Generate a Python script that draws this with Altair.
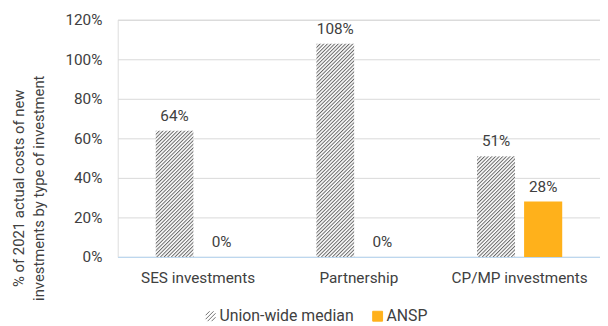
import base64
import altair as alt
import pandas as pd

categories = ["SES investments", "Partnership", "CP/MP investments"]
series_names = ["Union-wide median", "ANSP"]
union_median = [0.64, 1.08, 0.51]
ansp = [0.00, 0.00, 0.28]
y_ticks = [0, 0.2, 0.4, 0.6, 0.8, 1.0, 1.2]

rows = []
for c, u, a in zip(categories, union_median, ansp):
    rows.append({"category": c, "series": series_names[0], "value": u})
    rows.append({"category": c, "series": series_names[1], "value": a})
df = pd.DataFrame(rows)

ORANGE = "#FFB11B"
TEXT = "#404040"
FONT = "Roboto"

hatch_svg = (
    "<svg xmlns='http://www.w3.org/2000/svg' width='100%' height='100%'>"
    "<defs><pattern id='h' width='2.6' height='2.6' patternUnits='userSpaceOnUse' "
    "patternTransform='rotate(45)'>"
    "<rect width='2.6' height='2.6' fill='#ffffff'/>"
    "<rect width='1' height='2.6' fill='#666666'/></pattern></defs>"
    "<rect width='100%' height='100%' fill='url(#h)'/></svg>"
)
hatch_uri = "data:image/svg+xml;base64," + base64.b64encode(hatch_svg.encode()).decode()

hatch_path = "M-1,-0.2L-0.2,-1M-1,0.6L0.6,-1M-0.6,1L1,-0.6M0.2,1L1,0.2"

x_enc = alt.X("category:N", sort=categories,
              scale=alt.Scale(paddingInner=0.47, paddingOuter=0.235),
              axis=alt.Axis(title=None, labelAngle=0, labelFontSize=15.5, labelColor=TEXT,
                            labelFont=FONT, labelPadding=14, ticks=False,
                            domainColor="#BDD7EE", domainWidth=1.2, grid=False))
xo_enc = alt.XOffset("series:N", sort=series_names,
                     scale=alt.Scale(domain=series_names, paddingInner=0.19, paddingOuter=0))
y_enc = alt.Y("value:Q",
              scale=alt.Scale(domain=[0, 1.2], nice=False),
              axis=alt.Axis(values=y_ticks, format=".0%", title=["% of 2021 actual costs of new",
                                                                  "investments by type of investment"],
                            titleFontSize=15, titleFont=FONT, titleColor=TEXT, titleFontWeight="normal",
                            titleLineHeight=20, titlePadding=19, titleY=170,
                            labelFontSize=15.5, labelFont=FONT, labelColor=TEXT, labelPadding=16,
                            ticks=False, domain=False, gridColor="#D9D9D9", gridWidth=1))

base = alt.Chart(df)

union_bars = base.transform_filter(alt.datum.series == series_names[0]).mark_image(aspect=False).encode(
    x=x_enc, xOffset=xo_enc, y=y_enc, y2=alt.datum(0), url=alt.value(hatch_uri)
)

ansp_bars = base.transform_filter(alt.datum.series == series_names[1]).mark_bar(color=ORANGE).encode(
    x=x_enc, xOffset=xo_enc, y=y_enc
)

labels = base.mark_text(baseline="alphabetic", dy=-10, fontSize=15.5, font=FONT, color=TEXT).encode(
    x=x_enc, xOffset=xo_enc, y=y_enc, text=alt.Text("value:Q", format=".0%")
)

legend_layer = base.transform_filter("false").mark_point(filled=True, size=110, opacity=1).encode(
    fill=alt.Fill("series:N", scale=alt.Scale(domain=series_names, range=["transparent", ORANGE]),
                  legend=alt.Legend(title=None, orient="none", direction="horizontal",
                                    legendX=86, legendY=292, labelFontSize=16, labelFont=FONT,
                                    labelColor=TEXT, symbolOpacity=1, symbolStrokeWidth=1,
                                    columnPadding=16, labelOffset=1)),
    stroke=alt.Stroke("series:N", scale=alt.Scale(domain=series_names, range=["#707070", ORANGE])),
    shape=alt.Shape("series:N", scale=alt.Scale(domain=series_names, range=[hatch_path, "square"])),
)

chart = alt.layer(union_bars, ansp_bars, labels, legend_layer).properties(
    width=488, height=240, padding={"left": 3, "top": 3, "right": 0, "bottom": 0}
).configure_view(stroke=None).configure(background="white")

chart.save("out.html", embed_options={"renderer": "svg", "actions": False})
